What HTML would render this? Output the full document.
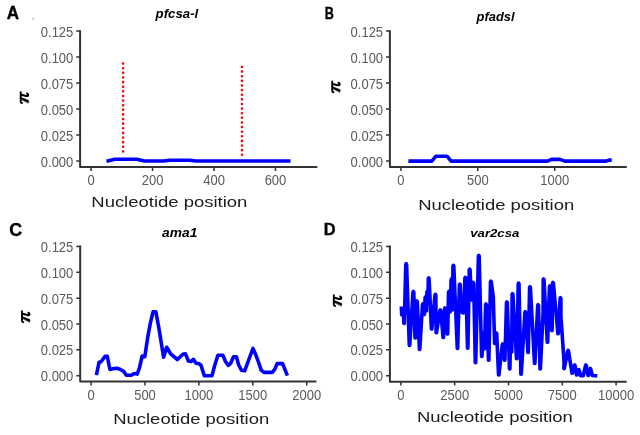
<!DOCTYPE html>
<html><head><meta charset="utf-8"><title>Nucleotide diversity</title>
<style>
html,body{margin:0;padding:0;background:#fff;}
body{width:640px;height:435px;overflow:hidden;font-family:"Liberation Sans",sans-serif;}
svg{display:block;}
.t{font-family:"Liberation Sans",sans-serif;font-size:13px;fill:#5a5a5a;}
.pl{font-family:"Liberation Sans",sans-serif;font-size:15.5px;font-weight:bold;fill:#000;stroke:#000;stroke-width:0.35px;}
.ti{font-family:"Liberation Sans",sans-serif;font-size:12.5px;font-weight:bold;font-style:italic;fill:#000;}
.xl{font-family:"Liberation Sans",sans-serif;font-size:14.4px;fill:#1c1c1c;}
.pi{font-family:"Liberation Serif",serif;font-size:21px;font-weight:bold;font-style:italic;fill:#000;}
</style></head><body>
<svg style="will-change:transform" width="640" height="435" viewBox="0 0 640 435">
<rect width="640" height="435" fill="#fff"/>
<g id="pA">
<path d="M80.1 30.2V167H317.3" fill="none" stroke="#333333" stroke-width="2.0" stroke-linejoin="round"/>
<path d="M76.2 160.9H80.1M76.2 134.9H80.1M76.2 108.9H80.1M76.2 82.9H80.1M76.2 56.9H80.1M76.2 30.9H80.1M91.1 167V170.9M152.56 167V170.9M214.02 167V170.9M275.48 167V170.9" fill="none" stroke="#333333" stroke-width="1.5"/>
<text transform="translate(73.3,166.5) scale(1,1.08)" text-anchor="end" class="t">0.000</text>
<text transform="translate(73.3,140.5) scale(1,1.08)" text-anchor="end" class="t">0.025</text>
<text transform="translate(73.3,114.5) scale(1,1.08)" text-anchor="end" class="t">0.050</text>
<text transform="translate(73.3,88.5) scale(1,1.08)" text-anchor="end" class="t">0.075</text>
<text transform="translate(73.3,62.5) scale(1,1.08)" text-anchor="end" class="t">0.100</text>
<text transform="translate(73.3,36.5) scale(1,1.08)" text-anchor="end" class="t">0.125</text>
<text transform="translate(91.1,185) scale(1,1.08)" text-anchor="middle" class="t">0</text>
<text transform="translate(152.56,185) scale(1,1.08)" text-anchor="middle" class="t">200</text>
<text transform="translate(214.02,185) scale(1,1.08)" text-anchor="middle" class="t">400</text>
<text transform="translate(275.48,185) scale(1,1.08)" text-anchor="middle" class="t">600</text>
<path d="M106.5 161.2L114.8 159.3L136.9 159.3L144.5 161L163.5 161L169.5 160.2L190 160.2L195.6 161L290.5 161" fill="none" stroke="#0000ff" stroke-width="3.6" stroke-linejoin="round" stroke-linecap="butt"/>
<path d="M123.1 63.6V152.6" stroke="#ff0000" stroke-width="2.6" stroke-dasharray="0 4.62" stroke-linecap="round" fill="none"/>
<path d="M242 67V155.6" stroke="#ff0000" stroke-width="2.6" stroke-dasharray="0 4.62" stroke-linecap="round" fill="none"/>
<text transform="translate(6.69,18.98) scale(1.065,1.094)" class="pl" style="font-size:16px">A</text>
<text transform="translate(155.56,18.15) scale(1.034,0.947)" class="ti" style="font-size:12.8px">pfcsa-l</text>
<g transform="translate(19.7,103.6) rotate(-90)" stroke="#000" stroke-linecap="round" stroke-linejoin="round"><path d="M0.6 2.3Q0.7 1 2.3 1L11.4 1" fill="none" stroke-width="1.9"/><path d="M4.4 1.6L6.0 1.6L3.1 8.9Q1.8 9.2 0.8 8.6Z" fill="#000" stroke-width="0.6"/><path d="M8.9 1.6L7.6 6.4Q7.3 8.5 8.6 8.4Q9.8 8.2 10 7.4" fill="none" stroke-width="2.1"/></g>
<text x="91.3" y="206.8" class="xl" textLength="156" lengthAdjust="spacingAndGlyphs">Nucleotide position</text>
<rect x="32.4" y="17.6" width="1.6" height="2.2" fill="#a9c0d8"/>
</g>
<g id="pB">
<path d="M389.9 30.2V167.1H626.8" fill="none" stroke="#333333" stroke-width="2.0" stroke-linejoin="round"/>
<path d="M386 160.9H389.9M386 134.9H389.9M386 108.9H389.9M386 82.9H389.9M386 56.9H389.9M386 30.9H389.9M400.9 167.1V171M477.8 167.1V171M554.7 167.1V171" fill="none" stroke="#333333" stroke-width="1.5"/>
<text transform="translate(383.1,166.5) scale(1,1.08)" text-anchor="end" class="t">0.000</text>
<text transform="translate(383.1,140.5) scale(1,1.08)" text-anchor="end" class="t">0.025</text>
<text transform="translate(383.1,114.5) scale(1,1.08)" text-anchor="end" class="t">0.050</text>
<text transform="translate(383.1,88.5) scale(1,1.08)" text-anchor="end" class="t">0.075</text>
<text transform="translate(383.1,62.5) scale(1,1.08)" text-anchor="end" class="t">0.100</text>
<text transform="translate(383.1,36.5) scale(1,1.08)" text-anchor="end" class="t">0.125</text>
<text transform="translate(400.9,185) scale(1,1.08)" text-anchor="middle" class="t">0</text>
<text transform="translate(477.8,185) scale(1,1.08)" text-anchor="middle" class="t">500</text>
<text transform="translate(554.7,185) scale(1,1.08)" text-anchor="middle" class="t">1000</text>
<path d="M408.4 161.1L431.8 161.1L435.9 156.2L447 156.2L451.1 161.1L547.6 161.1L551.5 159.4L560 159.4L564.8 161.1L606 161.1L609 160.1L611.7 160.1" fill="none" stroke="#0000ff" stroke-width="3.6" stroke-linejoin="round" stroke-linecap="butt"/>
<text transform="translate(324.72,18.8) scale(0.789,1.064)" class="pl" style="font-size:16px">B</text>
<text transform="translate(476.56,20.79) scale(1.007,0.989)" class="ti" style="font-size:12.8px">pfadsl</text>
<g transform="translate(331.2,92.8) rotate(-90)" stroke="#000" stroke-linecap="round" stroke-linejoin="round"><path d="M0.6 2.3Q0.7 1 2.3 1L11.4 1" fill="none" stroke-width="1.9"/><path d="M4.4 1.6L6.0 1.6L3.1 8.9Q1.8 9.2 0.8 8.6Z" fill="#000" stroke-width="0.6"/><path d="M8.9 1.6L7.6 6.4Q7.3 8.5 8.6 8.4Q9.8 8.2 10 7.4" fill="none" stroke-width="2.1"/></g>
<text x="418.2" y="209.7" class="xl" textLength="156" lengthAdjust="spacingAndGlyphs">Nucleotide position</text>
</g>
<g id="pC">
<path d="M80.2 245.4V381.6H316.4" fill="none" stroke="#333333" stroke-width="2.0" stroke-linejoin="round"/>
<path d="M76.3 375.7H80.2M76.3 349.85H80.2M76.3 324H80.2M76.3 298.15H80.2M76.3 272.3H80.2M76.3 246.45H80.2M91.1 381.6V385.5M145 381.6V385.5M198.9 381.6V385.5M252.8 381.6V385.5M306.7 381.6V385.5" fill="none" stroke="#333333" stroke-width="1.5"/>
<text transform="translate(73.3,381.3) scale(1,1.08)" text-anchor="end" class="t">0.000</text>
<text transform="translate(73.3,355.45) scale(1,1.08)" text-anchor="end" class="t">0.025</text>
<text transform="translate(73.3,329.6) scale(1,1.08)" text-anchor="end" class="t">0.050</text>
<text transform="translate(73.3,303.75) scale(1,1.08)" text-anchor="end" class="t">0.075</text>
<text transform="translate(73.3,277.9) scale(1,1.08)" text-anchor="end" class="t">0.100</text>
<text transform="translate(73.3,252.05) scale(1,1.08)" text-anchor="end" class="t">0.125</text>
<text transform="translate(91.1,399.6) scale(1,1.08)" text-anchor="middle" class="t">0</text>
<text transform="translate(145,399.6) scale(1,1.08)" text-anchor="middle" class="t">500</text>
<text transform="translate(198.9,399.6) scale(1,1.08)" text-anchor="middle" class="t">1000</text>
<text transform="translate(252.8,399.6) scale(1,1.08)" text-anchor="middle" class="t">1500</text>
<text transform="translate(306.7,399.6) scale(1,1.08)" text-anchor="middle" class="t">2000</text>
<path d="M96.4 375.2L99 362.5L101.2 361.5L105.1 356.4L107.3 356.4L109.9 369.5L112.7 368.7L117.1 368.2L120.4 369.5L123.7 371.3L126.3 375.2L131.3 375.2L134.1 373.5L137.2 374.1L139.4 368L142.2 356L144.8 356.7L147.7 337.4L150.3 323.3L153.1 311.7L155.8 311.7L158.6 326.5L163.6 357.1L166.7 347.3L170.6 353.8L177.4 359.5L182.9 354.3L185.5 353.8L188.4 361L191.2 361.5L193.4 359.3L196 363.2L198.9 363.6L201 365.2L204.3 375.7L212 375.7L214.6 365.8L217.9 355.3L222.9 355.3L225.5 361.5L228.3 365.4L230.5 363.6L233.6 356.7L236.4 356.7L238.6 364.7L241.4 370.2L244.7 370.8L247.4 363.5L253 348.4L255.8 354.9L258.6 362.5L261.2 370.2L264 372.4L272.3 372.4L274.9 369.1L277.1 363.6L282.6 363.6L284.8 369.1L287.4 375.7" fill="none" stroke="#0000ff" stroke-width="3.6" stroke-linejoin="round" stroke-linecap="butt"/>
<text transform="translate(9.29,236.42) scale(1.115,1.105)" class="pl" style="font-size:16px">C</text>
<text transform="translate(162.06,237.18) scale(1.079,0.971)" class="ti" style="font-size:12.8px">ama1</text>
<g transform="translate(21,322.7) rotate(-90)" stroke="#000" stroke-linecap="round" stroke-linejoin="round"><path d="M0.6 2.3Q0.7 1 2.3 1L11.4 1" fill="none" stroke-width="1.9"/><path d="M4.4 1.6L6.0 1.6L3.1 8.9Q1.8 9.2 0.8 8.6Z" fill="#000" stroke-width="0.6"/><path d="M8.9 1.6L7.6 6.4Q7.3 8.5 8.6 8.4Q9.8 8.2 10 7.4" fill="none" stroke-width="2.1"/></g>
<text x="113.2" y="424.4" class="xl" textLength="156" lengthAdjust="spacingAndGlyphs">Nucleotide position</text>
</g>
<g id="pD">
<path d="M389.9 245.4V381.7H626.7" fill="none" stroke="#333333" stroke-width="2.0" stroke-linejoin="round"/>
<path d="M386 375.7H389.9M386 349.85H389.9M386 324H389.9M386 298.15H389.9M386 272.3H389.9M386 246.45H389.9M400.9 381.7V385.6M454.7 381.7V385.6M508.5 381.7V385.6M562.3 381.7V385.6M616.1 381.7V385.6" fill="none" stroke="#333333" stroke-width="1.5"/>
<text transform="translate(383.1,381.3) scale(1,1.08)" text-anchor="end" class="t">0.000</text>
<text transform="translate(383.1,355.45) scale(1,1.08)" text-anchor="end" class="t">0.025</text>
<text transform="translate(383.1,329.6) scale(1,1.08)" text-anchor="end" class="t">0.050</text>
<text transform="translate(383.1,303.75) scale(1,1.08)" text-anchor="end" class="t">0.075</text>
<text transform="translate(383.1,277.9) scale(1,1.08)" text-anchor="end" class="t">0.100</text>
<text transform="translate(383.1,252.05) scale(1,1.08)" text-anchor="end" class="t">0.125</text>
<text transform="translate(400.9,399.6) scale(1,1.08)" text-anchor="middle" class="t">0</text>
<text transform="translate(454.7,399.6) scale(1,1.08)" text-anchor="middle" class="t">2500</text>
<text transform="translate(508.5,399.6) scale(1,1.08)" text-anchor="middle" class="t">5000</text>
<text transform="translate(562.3,399.6) scale(1,1.08)" text-anchor="middle" class="t">7500</text>
<text transform="translate(616.1,399.6) scale(1,1.08)" text-anchor="middle" class="t">10000</text>
<path d="M401.3 306.5L401.7 315L402.1 315L402.4 309.2L402.8 308.5L403.2 309.2L403.9 323.5L404.3 323.5L405.8 264.3L406.2 263.6L406.6 264.3L409.3 345.5L409.7 345.5L413 292.2L413.4 291.5L413.8 292.2L415 338L415.4 338L416.5 301.7L416.9 301L417.3 301.7L419.4 349.4L419.8 349.4L422.5 304.7L422.9 304L423.3 304.7L424 314.5L424.4 314.5L425.1 297.7L425.5 297L425.9 297.7L426.1 311L426.5 311L426.9 292.2L427.3 291.5L427.7 292.2L427.5 300L427.9 300L428.3 278.5L428.7 277.8L429.1 278.5L431.4 329L431.8 329L435 295L435.4 294.3L435.8 295L436.1 332.8L436.5 332.8L439.9 310.7L440.3 310L440.7 310.7L443.1 337.5L443.5 337.5L444.5 308.7L444.9 308L445.3 308.7L447.3 334L447.7 334L448.5 292.2L448.9 291.5L449.3 292.2L449.8 312L450.2 312L451.1 279.7L451.5 279L451.9 279.7L451.8 310L452.2 310L453 266L453.4 265.3L453.8 266L457.3 348.5L457.7 348.5L459.4 284.8L459.8 284.1L460.2 284.8L461 312L461.4 312L461.8 298.7L462.2 298L462.6 298.7L463 313L463.4 313L464.9 278L465.3 277.3L465.7 278L467.5 348.3L467.9 348.3L469.3 269.8L469.7 269.1L470.1 269.8L471.3 300L471.7 300L472.9 283.2L473.3 282.5L473.7 283.2L475.3 362.7L475.7 362.7L478.4 256.2L478.8 255.5L479.2 256.2L481.6 356.4L482 356.4L483 333.7L483.4 333L483.8 333.7L484.1 349L484.5 349L485.6 304.7L486 304L486.4 304.7L488.5 360.3L488.9 360.3L490.5 281.9L490.9 281.2L491.3 281.9L493.3 297L494.6 343.5L495 343.5L495.9 333.7L496.3 333L496.7 333.7L498.55 375L498.95 375L502.3 344.7L502.7 344L503.1 344.7L504.5 360.3L504.9 360.3L506.5 302.7L506.9 302L507.3 302.7L509.5 369L509.9 369L510.6 335.7L511 335L511.4 335.7L511.4 352L511.8 352L512.1 294.45L512.5 293.75L512.9 294.45L516.5 358.75L516.9 358.75L518.2 283.8L518.6 283.1L519 283.8L520.9 374.2L521.3 374.2L524.9 312.4L525.3 311.7L525.7 312.4L527.9 352.5L528.3 352.5L529.6 287.4L530 286.7L530.4 287.4L534.5 363.4L534.9 363.4L537.7 305.4L538.1 304.7L538.5 305.4L540 369L540.4 369L543.1 313L543.2 279.7L543.6 279L544 279.7L547.3 342.3L547.7 342.3L549.4 286.7L549.8 286L550.2 286.7L550.6 318L551 318L551.1 292.7L551.5 292L551.9 292.7L551.7 330.6L552.1 330.6L552.6 283.2L553 282.5L553.4 283.2L557.9 333.75L558.3 333.75L560.1 298.4L560.5 297.7L560.9 298.4L560.9 316L564 361L563.9 368.6L564.3 368.6L567.7 351.1L568.1 350.4L568.5 351.1L572 373.2L572.4 373.2L574.3 365.7L574.7 365L575.1 365.7L576.5 374.9L576.9 374.9L578.4 370.3L578.8 369.6L579.2 370.3L580.6 375.8L581 375.8L583.3 375.6L585.5 365.7L585.9 365L586.3 365.7L588 375.5L588.4 375.5L590 369.2L590.4 368.5L590.8 369.2L592.4 375.5L597.3 375.9" fill="none" stroke="#0000ff" stroke-width="3.6" stroke-linejoin="round" stroke-linecap="butt"/>
<text transform="translate(323.65,234.8) scale(1.025,1.078)" class="pl" style="font-size:16px">D</text>
<text transform="translate(470.24,237.18) scale(1.032,0.924)" class="ti" style="font-size:12.8px">var2csa</text>
<g transform="translate(332.8,306.6) rotate(-90)" stroke="#000" stroke-linecap="round" stroke-linejoin="round"><path d="M0.6 2.3Q0.7 1 2.3 1L11.4 1" fill="none" stroke-width="1.9"/><path d="M4.4 1.6L6.0 1.6L3.1 8.9Q1.8 9.2 0.8 8.6Z" fill="#000" stroke-width="0.6"/><path d="M8.9 1.6L7.6 6.4Q7.3 8.5 8.6 8.4Q9.8 8.2 10 7.4" fill="none" stroke-width="2.1"/></g>
<text x="416.9" y="422" class="xl" textLength="156" lengthAdjust="spacingAndGlyphs">Nucleotide position</text>
</g>
</svg></body></html>
